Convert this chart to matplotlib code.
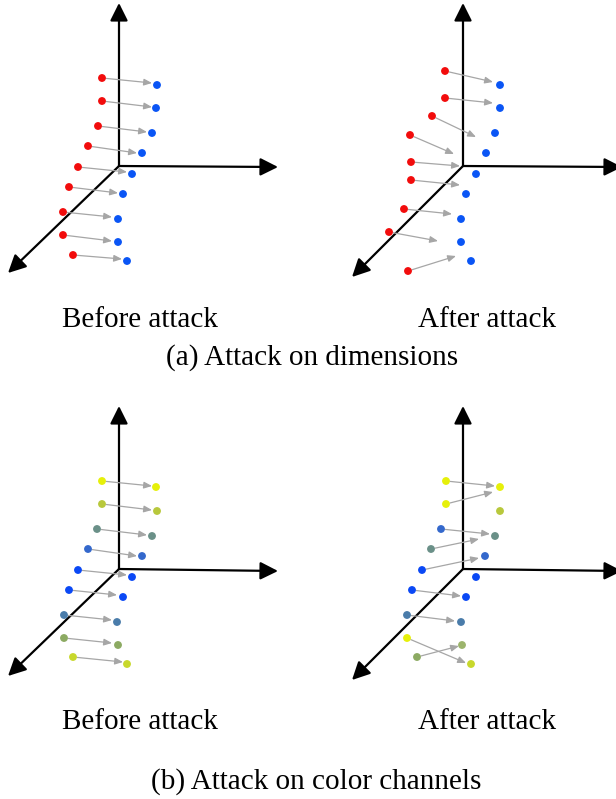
import matplotlib.pyplot as plt

# Diagram of points moved by an attack, drawn on a pixel canvas (616 x 799)

# Colour names
RED = "#f20c0c"
BLUE = "#0a55f5"
YEL = "#e6f00a"
YGR = "#b8c83c"
TEAL = "#6a9088"
MBLUE = "#3468cc"
BBLUE = "#0a48f5"
STEEL = "#4a7caa"
OLIVE = "#8caa62"
LIME = "#c8d82c"
OLIVE2 = "#9cb46c"

# Axes of each panel: origin, tips of the three axes
axis_origin = [(119, 166), (463, 166), (119, 569), (463, 569)]
axis_up = [(119, 3), (463, 3), (119, 406), (463, 406)]
axis_right = [(278, 167), (622, 167), (278, 571), (622, 571)]
axis_diag = [(8, 273), (352, 277), (8, 676), (352, 680)]

# Panel (a) before
a1_src_x = [102, 102, 98, 88, 78, 69, 63, 63, 73]
a1_src_y = [78, 101, 126, 146, 167, 187, 212, 235, 255]
a1_dst_x = [157, 156, 152, 142, 132, 123, 118, 118, 127]
a1_dst_y = [85, 108, 133, 153, 174, 194, 219, 242, 261]
a1_end_x = [152, 152, 147, 137, 127, 118, 112, 112, 122]
a1_end_y = [83, 107, 132, 153, 172, 193, 217, 241, 259]
a1_src_c = [RED] * 9
a1_dst_c = [BLUE] * 9

# Panel (a) after
a2_src_x = [445, 445, 432, 410, 411, 411, 404, 389, 408]
a2_src_y = [71, 98, 116, 135, 162, 180, 209, 232, 271]
a2_dst_x = [500, 500, 495, 486, 476, 466, 461, 461, 471]
a2_dst_y = [85, 108, 133, 153, 174, 194, 219, 242, 261]
a2_end_x = [493, 493, 476, 454, 460, 460, 452, 438, 456]
a2_end_y = [82, 103, 137, 154, 166, 185, 214, 241, 256]
a2_src_c = [RED] * 9
a2_dst_c = [BLUE] * 9

# Panel (b) before
b1_src_x = [102, 102, 97, 88, 78, 69, 64, 64, 73]
b1_src_y = [481, 504, 529, 549, 570, 590, 615, 638, 657]
b1_dst_x = [156, 157, 152, 142, 132, 123, 117, 118, 127]
b1_dst_y = [487, 511, 536, 556, 577, 597, 622, 645, 664]
b1_end_x = [152, 152, 147, 137, 127, 117, 112, 112, 123]
b1_end_y = [486, 510, 535, 556, 575, 595, 620, 643, 662]
b1_src_c = [YEL, YGR, TEAL, MBLUE, BBLUE, BBLUE, STEEL, OLIVE, LIME]
b1_dst_c = [YEL, YGR, TEAL, MBLUE, BBLUE, BBLUE, STEEL, OLIVE, LIME]

# Panel (b) after
b2_src_x = [446, 446, 441, 431, 422, 412, 407, 407, 417]
b2_src_y = [481, 504, 529, 549, 570, 590, 615, 638, 657]
b2_dst_x = [500, 500, 495, 485, 476, 466, 461, 462, 471]
b2_dst_y = [487, 511, 536, 556, 577, 597, 622, 645, 664]
b2_end_x = [495, 493, 490, 479, 479, 461, 455, 466, 459]
b2_end_y = [486, 492, 534, 539, 558, 596, 621, 663, 646]
b2_src_c = [YEL, YEL, MBLUE, TEAL, BBLUE, BBLUE, STEEL, YEL, OLIVE]
b2_dst_c = [YEL, YGR, TEAL, MBLUE, BBLUE, BBLUE, STEEL, OLIVE2, LIME]

panels = [
    (a1_src_x, a1_src_y, a1_dst_x, a1_dst_y, a1_end_x, a1_end_y, a1_src_c, a1_dst_c),
    (a2_src_x, a2_src_y, a2_dst_x, a2_dst_y, a2_end_x, a2_end_y, a2_src_c, a2_dst_c),
    (b1_src_x, b1_src_y, b1_dst_x, b1_dst_y, b1_end_x, b1_end_y, b1_src_c, b1_dst_c),
    (b2_src_x, b2_src_y, b2_dst_x, b2_dst_y, b2_end_x, b2_end_y, b2_src_c, b2_dst_c),
]

sub_labels = ["Before attack", "After attack"]
captions = ["(a) Attack on dimensions", "(b) Attack on color channels"]

fig = plt.figure(figsize=(6.16, 7.99), dpi=100)
ax = fig.add_axes([0, 0, 1, 1])
ax.set_xlim(0, 616)
ax.set_ylim(799, 0)
ax.axis("off")

# black coordinate axes
axis_style = dict(arrowstyle="-|>,head_length=0.6,head_width=0.3", color="black",
                  lw=1.6, mutation_scale=18, shrinkA=0, shrinkB=0)
for i in range(4):
    for tip in (axis_up[i], axis_right[i], axis_diag[i]):
        ax.annotate("", xy=tip, xytext=axis_origin[i], arrowprops=axis_style,
                    annotation_clip=False)

# grey arrows and dots
grey_style = dict(arrowstyle="-|>,head_length=0.6,head_width=0.25", color="#a6a6a6",
                  lw=0.9, mutation_scale=8, shrinkA=3, shrinkB=0)
for sx, sy, dx, dy, ex, ey, sc, dc in panels:
    for k in range(len(sx)):
        ax.annotate("", xy=(ex[k], ey[k]), xytext=(sx[k], sy[k]), arrowprops=grey_style)
    ax.scatter(sx, sy, s=32, c=sc, edgecolors="none", zorder=5)
    ax.scatter(dx, dy, s=32, c=dc, edgecolors="none", zorder=5)

font = dict(family="Liberation Serif", fontsize=21, color="black")
for yb in (327, 729):
    ax.text(140, yb, sub_labels[0], ha="center", va="baseline", **font)
    ax.text(487, yb, sub_labels[1], ha="center", va="baseline", **font)
ax.text(312, 365, captions[0], ha="center", va="baseline", **font)
ax.text(316, 789, captions[1], ha="center", va="baseline", **font)

fig.savefig("out.png", dpi=100)
